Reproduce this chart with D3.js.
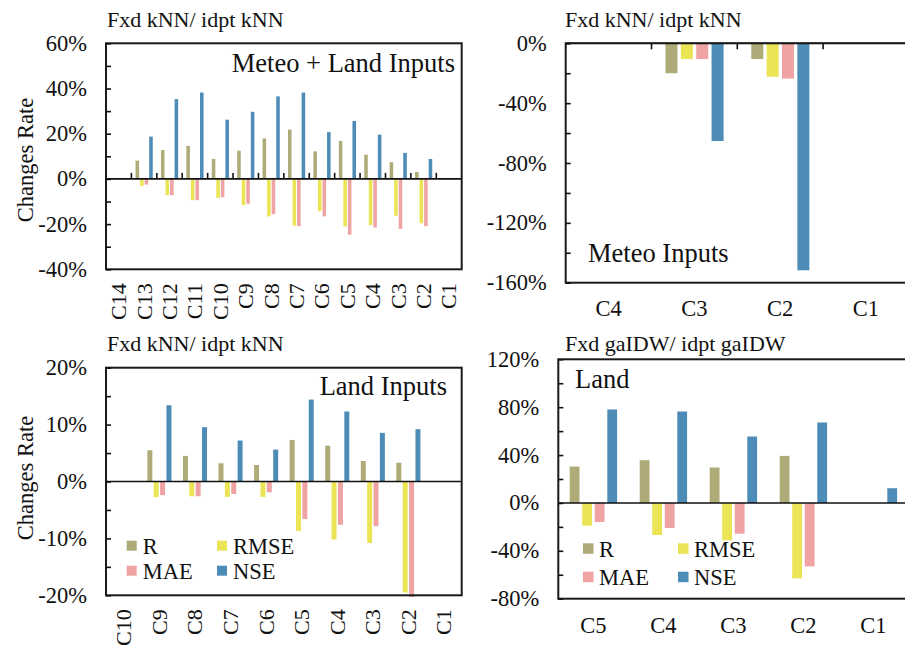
<!DOCTYPE html>
<html>
<head>
<meta charset="utf-8">
<script src="https://cdn.jsdelivr.net/npm/d3@7/dist/d3.min.js"></script>
<style>
  html, body { margin: 0; padding: 0; background: #fff; }
  svg { display: block; }
  text { font-family: "Liberation Serif", "Times New Roman", serif; fill: #111; }
</style>
</head>
<body>
<svg id="chart" width="905" height="646"></svg>
<script>
// Series shared by all four panels
const metrics = ["R", "RMSE", "MAE", "NSE"];
const metricColors = ["#aeab78", "#ebe454", "#f0a3a3", "#4d8cb7"];

// Panel A: fixed kNN vs independent kNN, meteo + land inputs (% change)
const catsA = ["C14", "C13", "C12", "C11", "C10", "C9", "C8", "C7", "C6", "C5", "C4", "C3", "C2", "C1"];
const rA    = [null, 8.1, 12.8, 14.6, 8.8, 12.5, 17.9, 21.8, 12.2, 16.8, 10.7, 7.4, 3.1, null];
const rmseA = [null, -3.1, -7.2, -9.4, -8.4, -11.6, -16.6, -20.7, -14.3, -21.0, -20.4, -16.3, -19.6, null];
const maeA  = [null, -2.5, -7.2, -9.4, -8.1, -11.0, -15.6, -20.9, -16.6, -24.7, -21.5, -22.1, -20.9, null];
const nseA  = [null, 18.7, 35.3, 38.2, 26.2, 29.7, 36.5, 38.2, 20.7, 25.6, 19.6, 11.5, 8.8, null];
const ticksA = [-40, -20, 0, 20, 40, 60];

// Panel B: fixed kNN vs independent kNN, meteo inputs
const catsB = ["C4", "C3", "C2", "C1"];
const rB    = [null, -20.0, -10.5, null];
const rmseB = [null, -10.5, -22.3, null];
const maeB  = [null, -10.5, -23.6, null];
const nseB  = [null, -65.3, -151.7, null];
const ticksB = [-160, -120, -80, -40, 0];

// Panel C: fixed kNN vs independent kNN, land inputs
const catsC = ["C10", "C9", "C8", "C7", "C6", "C5", "C4", "C3", "C2", "C1"];
const rC    = [null, 5.5, 4.5, 3.2, 2.9, 7.3, 6.3, 3.6, 3.3, null];
const rmseC = [null, -2.75, -2.6, -2.7, -2.7, -8.7, -10.2, -10.8, -19.5, null];
const maeC  = [null, -2.4, -2.6, -2.2, -1.9, -6.6, -7.6, -7.85, -20.3, null];
const nseC  = [null, 13.4, 9.55, 7.2, 5.6, 14.4, 12.3, 8.55, 9.2, null];
const ticksC = [-20, -10, 0, 10, 20];

// Panel D: fixed gaIDW vs independent gaIDW, land inputs
const catsD = ["C5", "C4", "C3", "C2", "C1"];
const rD    = [30.4, 35.7, 29.6, 39.3, null];
const rmseD = [-19.0, -26.8, -31.2, -63.0, null];
const maeD  = [-15.9, -20.9, -25.7, -53.0, null];
const nseD  = [78.1, 76.4, 55.5, 67.2, 12.3];
const ticksD = [-80, -40, 0, 40, 80, 120];

const svg = d3.select("#chart");
svg.append("rect").attr("width", 905).attr("height", 646).attr("fill", "#fff");

const panels = [
  { cats: catsA, series: [rA, rmseA, maeA, nseA], ticks: ticksA, minor: 10,
    box: { l: 106, r: 461.7, t: 43.3, b: 269.3 },
    title: "Fxd kNN/ idpt kNN", titleXY: [107, 26.5],
    label: "Meteo + Land Inputs", labelXY: [455, 71.5], labelAnchor: "end",
    ylabel: "Changes Rate", ylabelY: 160,
    rotateX: true, catTicks: "up", legend: null },
  { cats: catsB, series: [rB, rmseB, maeB, nseB], ticks: ticksB, minor: 20,
    box: { l: 565.7, r: 908.9, t: 43.3, b: 282.7 },
    title: "Fxd kNN/ idpt kNN", titleXY: [565, 26.5],
    label: "Meteo Inputs", labelXY: [588, 261.5], labelAnchor: "start",
    ylabel: null, rotateX: false, xLabelY: 316, catTicks: "down", legend: null },
  { cats: catsC, series: [rC, rmseC, maeC, nseC], ticks: ticksC, minor: 5,
    box: { l: 106, r: 461.7, t: 367.7, b: 595.3 },
    title: "Fxd kNN/ idpt kNN", titleXY: [107, 350.5],
    label: "Land Inputs", labelXY: [447, 395], labelAnchor: "end",
    ylabel: "Changes Rate", ylabelY: 478,
    rotateX: true, catTicks: null, legend: { x: 126.7, y: 540.7, dx: 90.3, dy: 25, s: 10 } },
  { cats: catsD, series: [rD, rmseD, maeD, nseD], ticks: ticksD, minor: 20,
    box: { l: 558.3, r: 908.3, t: 359.3, b: 598.7 },
    title: "Fxd gaIDW/ idpt gaIDW", titleXY: [565, 350.5],
    label: "Land", labelXY: [575, 388], labelAnchor: "start",
    ylabel: null, rotateX: false, xLabelY: 633, catTicks: null,
    legend: { x: 583, y: 543.3, dx: 95, dy: 28.4, s: 10.5 } }
];

// Grouped-bar geometry as fractions of a category band
const barOffset = 0.163, barStep = 0.179, barWidth = 0.14;

panels.forEach(p => {
  const { l, r, t, b } = p.box;
  const g = svg.append("g");
  const x = d3.scaleBand().domain(p.cats).range([l, r]).padding(0);
  const y = d3.scaleLinear().domain([p.ticks[0], p.ticks[p.ticks.length - 1]]).range([b, t]);
  const bw = x.bandwidth();

  // bars
  p.series.forEach((vals, i) => {
    g.append("g").selectAll("rect")
      .data(p.cats.map((c, j) => ({ c, v: vals[j] })).filter(d => d.v != null))
      .join("rect")
      .attr("x", d => x(d.c) + bw * (barOffset + i * barStep))
      .attr("width", bw * barWidth)
      .attr("y", d => Math.min(y(d.v), y(0)))
      .attr("height", d => Math.abs(y(d.v) - y(0)))
      .attr("fill", metricColors[i]);
  });

  // zero line
  g.append("line").attr("x1", l).attr("x2", r).attr("y1", y(0)).attr("y2", y(0))
    .attr("stroke", "#111").attr("stroke-width", 1.6);

  // category boundary ticks on the zero line
  if (p.catTicks) {
    const dir = p.catTicks === "up" ? -6 : 6;
    g.append("g").selectAll("line")
      .data(p.cats.slice(1))
      .join("line")
      .attr("x1", d => x(d)).attr("x2", d => x(d))
      .attr("y1", y(0)).attr("y2", y(0) + dir)
      .attr("stroke", "#111").attr("stroke-width", 1.6);
  }

  // frame
  g.append("rect").attr("x", l).attr("y", t).attr("width", r - l).attr("height", b - t)
    .attr("fill", "none").attr("stroke", "#1a1a1a").attr("stroke-width", 2);

  // y axis: inward ticks at every half step, labels at major steps
  const lo = p.ticks[0], hi = p.ticks[p.ticks.length - 1];
  const allTicks = d3.range(lo, hi + p.minor / 2, p.minor);
  const yAxis = d3.axisRight(y).tickValues(allTicks).tickSize(5).tickFormat("");
  const ya = g.append("g").attr("transform", `translate(${l},0)`).call(yAxis);
  ya.select(".domain").remove();
  ya.selectAll("line").attr("stroke", "#111").attr("stroke-width", 1.6);

  g.append("g").selectAll("text")
    .data(p.ticks)
    .join("text")
    .attr("x", l - 19).attr("y", d => y(d))
    .attr("text-anchor", "end").attr("dominant-baseline", "central")
    .attr("font-size", 22.5)
    .text(d => `${d}%`);

  // category labels
  if (p.rotateX) {
    g.append("g").selectAll("text")
      .data(p.cats)
      .join("text")
      .attr("transform", d => `translate(${x(d) + bw / 2},${b + 14}) rotate(-90)`)
      .attr("text-anchor", "end").attr("dominant-baseline", "central")
      .attr("font-size", 22)
      .text(d => d);
  } else {
    g.append("g").selectAll("text")
      .data(p.cats)
      .join("text")
      .attr("x", d => x(d) + bw / 2).attr("y", p.xLabelY)
      .attr("text-anchor", "middle")
      .attr("font-size", 22.5)
      .text(d => d);
  }

  // title and panel label
  g.append("text").attr("x", p.titleXY[0]).attr("y", p.titleXY[1])
    .attr("font-size", 22).text(p.title);
  g.append("text").attr("x", p.labelXY[0]).attr("y", p.labelXY[1])
    .attr("text-anchor", p.labelAnchor).attr("font-size", 26.5).text(p.label);

  // y axis title
  if (p.ylabel) {
    g.append("text")
      .attr("transform", `translate(25,${p.ylabelY}) rotate(-90)`)
      .attr("text-anchor", "middle").attr("dominant-baseline", "central")
      .attr("font-size", 22.5).text(p.ylabel);
  }

  // legend
  if (p.legend) {
    const L = p.legend;
    const items = g.append("g").selectAll("g")
      .data(metrics)
      .join("g")
      .attr("transform", (d, i) => `translate(${L.x + (i % 2) * L.dx},${L.y + Math.floor(i / 2) * L.dy})`);
    items.append("rect").attr("width", L.s).attr("height", L.s)
      .attr("fill", (d, i) => metricColors[i]);
    items.append("text").attr("x", 16).attr("y", L.s / 2 + 1)
      .attr("dominant-baseline", "central").attr("font-size", 22.5)
      .text(d => d);
  }
});
</script>
</body>
</html>
